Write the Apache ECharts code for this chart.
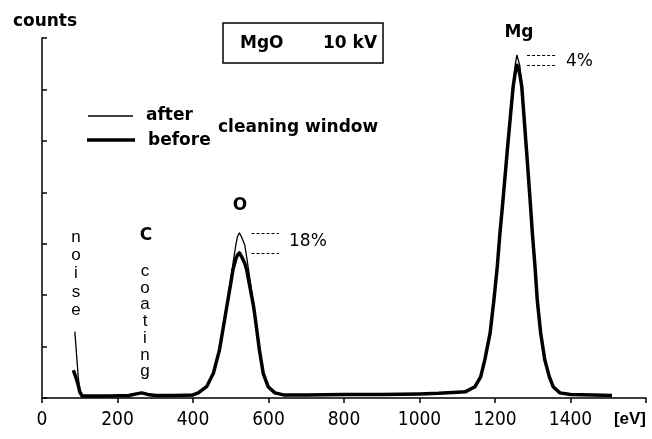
<!DOCTYPE html>
<html>
<head>
<meta charset="utf-8">
<script src="https://cdn.jsdelivr.net/npm/echarts@6/dist/echarts.min.js"></script>
<style>
  html, body { margin: 0; padding: 0; background: #fff; }
  #chart { width: 652px; height: 439px; }
</style>
</head>
<body>
<div id="chart"></div>
<script>
// energy axis (eV) shared by both spectra
var energy = [83, 87, 92, 96, 100, 106, 130, 180, 230, 250, 264, 280, 300, 350, 400,
  414, 436, 454, 470, 485, 500, 506, 514, 518, 523, 528, 537, 542, 549, 560, 564, 576,
  586, 599, 617, 640, 700, 800, 900, 1000, 1050, 1100, 1121, 1147, 1162, 1173, 1187,
  1197, 1206, 1213, 1220, 1233, 1248, 1254, 1258, 1262, 1266, 1271, 1284, 1293, 1299,
  1306, 1312, 1321, 1332, 1344, 1354, 1372, 1400, 1460, 1510];

// counts before cleaning window (thick line)
var before = [0.54, 0.46, 0.35, 0.25, 0.12, 0.04, 0.04, 0.04, 0.05, 0.08, 0.10, 0.07, 0.05, 0.05, 0.06,
  0.10, 0.22, 0.48, 0.93, 1.58, 2.23, 2.50, 2.72, 2.78, 2.82, 2.76, 2.62, 2.50, 2.23, 1.80, 1.60, 0.93,
  0.48, 0.22, 0.10, 0.06, 0.06, 0.07, 0.07, 0.08, 0.09, 0.11, 0.12, 0.22, 0.41, 0.74, 1.26,
  1.90, 2.55, 3.20, 3.75, 4.85, 6.05, 6.35, 6.47, 6.42, 6.28, 6.05, 4.76, 3.85, 3.20,
  2.55, 1.90, 1.26, 0.74, 0.41, 0.22, 0.10, 0.07, 0.06, 0.05];

// counts after cleaning window (thin line)
var after = [null, 1.29, 0.80, 0.41, 0.15, 0.04, 0.04, 0.04, 0.05, 0.08, 0.10, 0.07, 0.05, 0.05, 0.06,
  0.10, 0.22, 0.48, 0.95, 1.62, 2.30, 2.62, 3.00, 3.14, 3.21, 3.14, 2.98, 2.75, 2.40, 1.85, 1.64, 0.95,
  0.48, 0.22, 0.10, 0.06, 0.06, 0.07, 0.07, 0.08, 0.09, 0.11, 0.12, 0.22, 0.41, 0.74, 1.26,
  1.90, 2.55, 3.20, 3.75, 4.85, 6.05, 6.50, 6.67, 6.67, 6.45, 6.05, 4.76, 3.85, 3.20,
  2.55, 1.90, 1.26, 0.74, 0.41, 0.22, 0.10, 0.07, 0.06, 0.05];

var xTicks = [0, 200, 400, 600, 800, 1000, 1200, 1400, 1600];

function pairs(xs, ys) {
  return xs.map(function (x, i) { return [x, ys[i]]; });
}
function peakIn(ys, lo, hi) {
  var m = 0;
  energy.forEach(function (e, i) {
    if (e >= lo && e <= hi && ys[i] != null && ys[i] > m) m = ys[i];
  });
  return m;
}

var oAfter = peakIn(after, 400, 700), oBefore = peakIn(before, 400, 700);
var mgAfter = peakIn(after, 1100, 1500), mgBefore = peakIn(before, 1100, 1500);

var dash = { color: '#000', width: 1, type: [3, 2] };
function hline(x1, x2, y) {
  return [{ coord: [x1, y] }, { coord: [x2, y] }];
}

var boldFont = '"DejaVu Sans", sans-serif';
var option = {
  animation: false,
  backgroundColor: '#fff',
  grid: { left: 42, right: 6, top: 38, bottom: 41 },
  xAxis: {
    type: 'value',
    min: 0, max: 1600, interval: 200,
    axisLine: { lineStyle: { color: '#000', width: 1.5 } },
    axisTick: { length: 5, lineStyle: { color: '#000', width: 1.5 } },
    splitLine: { show: false },
    axisLabel: {
      margin: 13,
      color: '#000',
      fontSize: 19,
      fontFamily: '"DejaVu Sans Condensed", "Liberation Sans Narrow", sans-serif',
      alignMaxLabel: 'right',
      formatter: function (v) {
        return v === xTicks[xTicks.length - 1] ? '{u|[eV]}' : String(v);
      },
      rich: {
        u: { fontFamily: '"Liberation Sans", sans-serif', fontWeight: 'bold', fontSize: 17, color: '#000' }
      }
    }
  },
  yAxis: {
    type: 'value',
    min: 0, max: 7, interval: 1,
    name: 'counts',
    nameLocation: 'end',
    nameGap: 8,
    nameTextStyle: { color: '#000', fontSize: 17, fontWeight: 'bold', fontFamily: boldFont, padding: [0, 0, 0, 6] },
    axisLine: { lineStyle: { color: '#000', width: 1.5 } },
    axisTick: { inside: true, length: 5, lineStyle: { color: '#000', width: 1.5 } },
    axisLabel: { show: false },
    splitLine: { show: false }
  },
  series: [
    {
      name: 'before',
      type: 'line',
      showSymbol: false,
      symbol: 'none',
      lineStyle: { color: '#000', width: 3.5, join: 'round' },
      data: pairs(energy, before),
      markLine: {
        silent: true,
        symbol: ['none', 'none'],
        label: { show: false },
        lineStyle: dash,
        data: [hline(555, 628, oBefore), hline(1285, 1364, mgBefore)]
      }
    },
    {
      name: 'after',
      type: 'line',
      showSymbol: false,
      symbol: 'none',
      lineStyle: { color: '#000', width: 1.3 },
      data: pairs(energy, after),
      markLine: {
        silent: true,
        symbol: ['none', 'none'],
        label: { show: false },
        lineStyle: dash,
        data: [hline(555, 628, oAfter), hline(1285, 1364, mgAfter)]
      }
    }
  ],
  graphic: [
    { type: 'rect', shape: { x: 223, y: 23, width: 160, height: 40 },
      style: { fill: 'none', stroke: '#000', lineWidth: 1.5 } },
    { type: 'text', x: 240, y: 44, style: { text: 'MgO', font: 'bold 17px ' + boldFont, fill: '#000', textVerticalAlign: 'middle' } },
    { type: 'text', x: 323, y: 44, style: { text: '10 kV', font: 'bold 17px ' + boldFont, fill: '#000', textVerticalAlign: 'middle' } },
    { type: 'text', x: 519, y: 33, style: { text: 'Mg', font: 'bold 17px ' + boldFont, fill: '#000', textAlign: 'center', textVerticalAlign: 'middle' } },
    { type: 'text', x: 566, y: 62, style: { text: '4%', font: '17px ' + boldFont, fill: '#000', textVerticalAlign: 'middle' } },
    { type: 'text', x: 240, y: 206, style: { text: 'O', font: 'bold 17px ' + boldFont, fill: '#000', textAlign: 'center', textVerticalAlign: 'middle' } },
    { type: 'text', x: 289, y: 242, style: { text: '18%', font: '17px ' + boldFont, fill: '#000', textVerticalAlign: 'middle' } },
    { type: 'text', x: 146, y: 236, style: { text: 'C', font: 'bold 17px ' + boldFont, fill: '#000', textAlign: 'center', textVerticalAlign: 'middle' } },
    { type: 'text', x: 145, y: 263, style: { text: 'c\no\na\nt\ni\nn\ng', font: '17px "Liberation Sans", sans-serif', lineHeight: 16.7, fill: '#000', textAlign: 'center' } },
    { type: 'text', x: 76, y: 228, style: { text: 'n\no\ni\ns\ne', font: '17px "Liberation Sans", sans-serif', lineHeight: 18.3, fill: '#000', textAlign: 'center' } },
    // legend
    { type: 'line', shape: { x1: 88, y1: 116, x2: 133, y2: 116 }, style: { stroke: '#000', lineWidth: 1.3 } },
    { type: 'text', x: 146, y: 116, style: { text: 'after', font: 'bold 17px ' + boldFont, fill: '#000', textVerticalAlign: 'middle' } },
    { type: 'line', shape: { x1: 87, y1: 140, x2: 135, y2: 140 }, style: { stroke: '#000', lineWidth: 3.5 } },
    { type: 'text', x: 148, y: 141, style: { text: 'before', font: 'bold 17px ' + boldFont, fill: '#000', textVerticalAlign: 'middle' } },
    { type: 'text', x: 218, y: 128, style: { text: 'cleaning window', font: 'bold 17px ' + boldFont, fill: '#000', textVerticalAlign: 'middle' } }
  ]
};

var chart = echarts.init(document.getElementById('chart'));
chart.setOption(option);
</script>
</body>
</html>
